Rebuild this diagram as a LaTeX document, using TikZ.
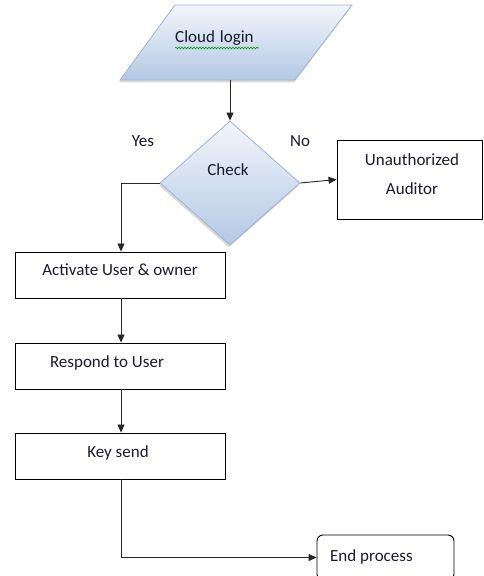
\documentclass[tikz,border=0pt]{standalone}
\usepackage{fontspec}
\setmainfont{Carlito}
\usetikzlibrary{arrows.meta,shapes.geometric,shadows,decorations.pathmorphing}
\definecolor{edgeblue}{HTML}{9CB4D6}
\definecolor{topblue}{HTML}{F2F6FB}
\definecolor{botblue}{HTML}{B4C8E4}
\definecolor{txt}{HTML}{1A1A2E}
\tikzset{
  box/.style={draw=black, line width=0.9pt, minimum width=210pt, minimum height=46pt, inner sep=0pt},
  lbl/.style={text=txt, font=\fontsize{17}{20}\selectfont, inner sep=0pt},
  flow/.style={draw=black!85, line width=0.9pt, -{Triangle[length=8pt,width=7pt]}},
  grad/.style={draw=edgeblue, line width=0.8pt, top color=topblue, bottom color=botblue,
    drop shadow={shadow xshift=-1pt, shadow yshift=-2.5pt, fill=black!30, opacity=0.5}},
}
\begin{document}
\begin{tikzpicture}[x=1pt,y=1pt]
\useasboundingbox (0,0) rectangle (483,576);
\begin{scope}
\clip (0,0) rectangle (483,576);
% Cloud login parallelogram
\path[grad] (175,571) -- (352,571) -- (295,496) -- (120,496) -- cycle;
\coordinate (login) at (230,496);
\node[lbl, anchor=west] (logintxt) at (175,538) {Cloud\hspace{5pt}login};
\draw[green!60!black, line width=0.6pt, decorate, decoration={snake, amplitude=0.9pt, segment length=3pt}]
  (175,528) -- (259,528);
% Check diamond
\node[diamond, grad, minimum width=140pt, minimum height=124pt, inner sep=0pt] (chk) at (230,393) {};
\node[lbl] (chktxt) at (228,406) {Check};
\node[lbl] (yes) at (143,435) {Yes};
\node[lbl] (no) at (300,435) {No};
% Unauthorized
\node[box, minimum width=145pt, minimum height=79pt] (unauth) at (409.5,396.5) {};
\node[lbl] (unauthtxt1) at (412,416) {Unauthorized};
\node[lbl] (unauthtxt2) at (412,387) {Auditor};
% Activate
\node[box] (act) at (120,301) {};
\node[lbl] (acttxt) at (120,306) {Activate User \& owner};
% Respond
\node[box] (resp) at (120,210) {};
\node[lbl] (resptxt) at (107,213) {Respond to User};
% Key send
\node[box] (key) at (120,120) {};
\node[lbl] (keytxt) at (118,123) {Key send};
% End process
\node[draw=black, line width=0.9pt, rounded corners=6pt, minimum width=137pt, minimum height=45pt, inner sep=0pt] (endp) at (385.5,18.5) {};
\node[lbl, anchor=west] (endtxt) at (330,19) {End process};
\end{scope}
% connectors
\draw[flow] (login) -- (chk.north);
\draw[flow] (chk.west) -| ([xshift=1pt]act.north);
\draw[flow] (chk.east) -- (unauth.west);
\draw[flow] ([xshift=1pt]act.south) -- ([xshift=1pt]resp.north);
\draw[flow] ([xshift=1pt]resp.south) -- ([xshift=1pt]key.north);
\draw[flow] ([xshift=1pt]key.south) |- (endp.west);
\end{tikzpicture}
\end{document}
